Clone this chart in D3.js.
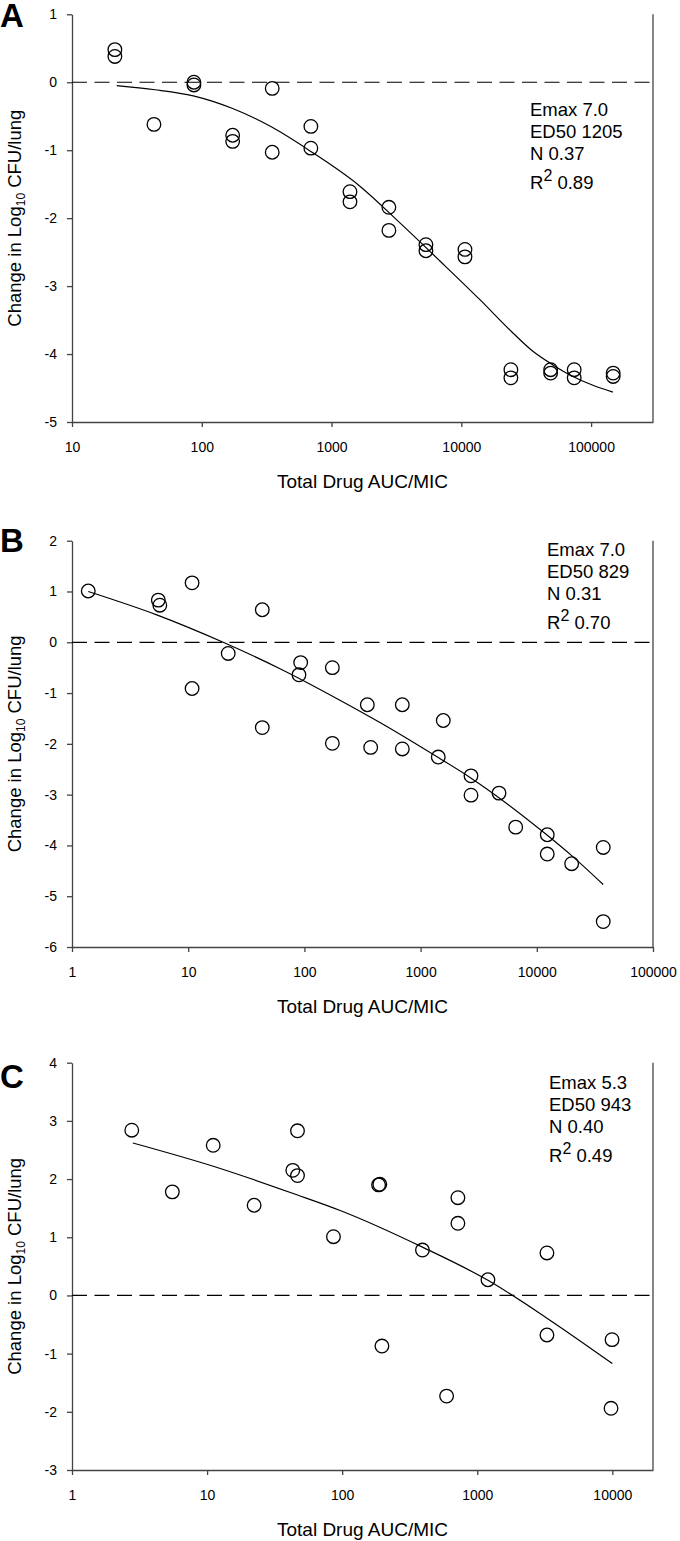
<!DOCTYPE html>
<html>
<head>
<meta charset="utf-8">
<script src="https://cdn.jsdelivr.net/npm/d3@7"></script>
<style>
  body { margin: 0; background: #fff; }
  svg { display: block; }
  text { font-family: "Liberation Sans", Arial, sans-serif; fill: #000; }
</style>
</head>
<body>
<script>
// ---- panel A ----
var aDose   = [21.4, 21.4, 42.8, 87, 87, 173, 173, 349, 349, 693, 693, 1387, 1387, 2767, 2767,
               5336, 5336, 10670, 10670, 24100, 24100, 48800, 48800, 74100, 74100, 148000, 148000];
var aChange = [0.48, 0.38, -0.62, 0.0, -0.04, -0.78, -0.87, -0.09, -1.03, -0.65, -0.97, -1.61, -1.76, -1.84, -2.18,
               -2.39, -2.48, -2.46, -2.57, -4.23, -4.35, -4.23, -4.28, -4.23, -4.35, -4.28, -4.33];
var aFitX   = [22.1, 43.6, 86, 175, 346, 682, 1655, 3365, 6840, 13910, 24980, 35610, 50780, 72400, 103250, 147230];
var aFitY   = [-0.05, -0.11, -0.20, -0.39, -0.66, -1.01, -1.53, -2.07, -2.63, -3.20, -3.69, -3.96, -4.16, -4.33, -4.46, -4.56];
var aTicksX = [10, 100, 1000, 10000, 100000];
var aTicksY = [-5, -4, -3, -2, -1, 0, 1];
var aNotes  = ["Emax 7.0", "ED50 1205", "N 0.37"];
var aR2     = "0.89";

// ---- panel B ----
var bDose   = [1.38, 5.53, 5.7, 10.8, 10.8, 22.1, 43.4, 43.4, 92.9, 89.8, 174, 174, 348, 372,
               696, 696, 1567, 1419, 2715, 2715, 4730, 6580, 12300, 12300, 19950, 37300, 37300];
var bChange = [1.01, 0.83, 0.73, 1.17, -0.91, -0.22, 0.64, -1.68, -0.40, -0.64, -0.5, -1.99, -1.23, -2.07,
               -1.23, -2.1, -1.54, -2.26, -2.63, -3.01, -2.97, -3.64, -3.79, -4.17, -4.36, -4.04, -5.5];
var bFitX   = [1.38, 5.36, 20.0, 61.7, 202, 447, 1419, 2700, 12170, 19950, 37300];
var bFitY   = [1.0, 0.54, 0.0, -0.52, -1.14, -1.58, -2.27, -2.67, -3.79, -4.2, -4.77];
var bTicksX = [1, 10, 100, 1000, 10000, 100000];
var bTicksY = [-6, -5, -4, -3, -2, -1, 0, 1, 2];
var bNotes  = ["Emax 7.0", "ED50 829", "N 0.31"];
var bR2     = "0.70";

// ---- panel C ----
var cDose   = [2.77, 5.53, 11.1, 22.3, 43.1, 46.7, 46.7, 86.2, 186, 190, 197, 393, 593,
               719, 719, 1200, 3280, 3280, 9950, 9780];
var cChange = [2.84, 1.78, 2.58, 1.55, 2.15, 2.06, 2.83, 1.01, 1.9, 1.91, -0.87, 0.78, -1.73,
               1.68, 1.24, 0.27, 0.73, -0.68, -0.76, -1.94];
var cFitX   = [2.82, 11.1, 46.2, 96.7, 393, 1200, 3280, 10000];
var cFitY   = [2.62, 2.22, 1.73, 1.46, 0.83, 0.26, -0.39, -1.17];
var cTicksX = [1, 10, 100, 1000, 10000];
var cTicksY = [-3, -2, -1, 0, 1, 2, 3, 4];
var cNotes  = ["Emax 5.3", "ED50 943", "N 0.40"];
var cR2     = "0.49";

var width = 680,
    height = 1541,
    left = 72,
    right = 653,
    axisColor = "#444";

var panels = [
  {letter: "A", letterY: 27, top: 14.3, bottom: 422, xDomain: [10, 300000], yDomain: [-5, 1],
   ticksX: aTicksX, ticksY: aTicksY, dose: aDose, change: aChange, fitX: aFitX, fitY: aFitY,
   notes: aNotes, r2: aR2, noteX: 530, noteY: 116},
  {letter: "B", letterY: 552, top: 540.7, bottom: 947, xDomain: [1, 100000], yDomain: [-6, 2],
   ticksX: bTicksX, ticksY: bTicksY, dose: bDose, change: bChange, fitX: bFitX, fitY: bFitY,
   notes: bNotes, r2: bR2, noteX: 547, noteY: 556},
  {letter: "C", letterY: 1088, top: 1062.7, bottom: 1470, xDomain: [1, 20000], yDomain: [-3, 4],
   ticksX: cTicksX, ticksY: cTicksY, dose: cDose, change: cChange, fitX: cFitX, fitY: cFitY,
   notes: cNotes, r2: cR2, noteX: 549, noteY: 1089}
];

var svg = d3.select("body")
  .append("svg")
    .attr("width", width)
    .attr("height", height);

panels.forEach(function(p) {
  var x = d3.scaleLog().domain(p.xDomain).range([left, right]);
  var y = d3.scaleLinear().domain(p.yDomain).range([p.bottom, p.top]);
  var g = svg.append("g");

  // axes
  var yAxis = g.append("g")
    .attr("transform", "translate(" + left + ",0)")
    .call(d3.axisLeft(y).tickValues(p.ticksY).tickSize(5).tickSizeOuter(0)
      .tickPadding(10).tickFormat(function(d) { return String(d); }));

  var xAxis = g.append("g")
    .attr("transform", "translate(0," + p.bottom + ")")
    .call(d3.axisBottom(x).tickValues(p.ticksX).tickSize(5).tickSizeOuter(0)
      .tickPadding(15).tickFormat(function(d) { return String(d); }));

  [yAxis, xAxis].forEach(function(a) {
    a.attr("font-family", null).attr("font-size", null);
    a.selectAll("path, line").attr("stroke", axisColor).attr("stroke-width", 1.3);
    a.selectAll("text").attr("font-size", 14).attr("fill", "#000");
  });

  // right frame line
  g.append("line")
    .attr("x1", right).attr("x2", right)
    .attr("y1", p.top).attr("y2", p.bottom)
    .attr("stroke", axisColor).attr("stroke-width", 1.3);

  // zero reference
  g.append("line")
    .attr("x1", left).attr("x2", right)
    .attr("y1", y(0)).attr("y2", y(0))
    .attr("stroke", "#000").attr("stroke-width", 1.2)
    .attr("stroke-dasharray", "15,7.5");

  // fitted curve
  var line = d3.line()
    .x(function(d) { return x(d[0]); })
    .y(function(d) { return y(d[1]); })
    .curve(d3.curveMonotoneX);

  g.append("path")
    .datum(d3.zip(p.fitX, p.fitY))
    .attr("d", line)
    .attr("fill", "none")
    .attr("stroke", "#000")
    .attr("stroke-width", 1.2);

  // observations
  g.selectAll(".pt")
    .data(d3.zip(p.dose, p.change))
    .enter()
    .append("circle")
      .attr("class", "pt")
      .attr("cx", function(d) { return x(d[0]); })
      .attr("cy", function(d) { return y(d[1]); })
      .attr("r", 6.8)
      .attr("fill", "none")
      .attr("stroke", "#000")
      .attr("stroke-width", 1.3);

  // fit parameters
  p.notes.forEach(function(t, i) {
    g.append("text")
      .attr("x", p.noteX)
      .attr("y", p.noteY + i * 22)
      .attr("font-size", 18.5)
      .text(t);
  });
  var r2 = g.append("text")
    .attr("x", p.noteX)
    .attr("y", p.noteY + 72.5)
    .attr("font-size", 18.5);
  r2.append("tspan").text("R");
  r2.append("tspan").attr("font-size", 16).attr("dy", -8).text("2");
  r2.append("tspan").attr("dy", 8).text(" " + p.r2);

  // axis titles
  g.append("text")
    .attr("x", (left + right) / 2)
    .attr("y", p.bottom + 66)
    .attr("text-anchor", "middle")
    .attr("font-size", 19)
    .text("Total Drug AUC/MIC");

  var yt = g.append("text")
    .attr("transform", "translate(21," + ((p.top + p.bottom) / 2) + ") rotate(-90)")
    .attr("text-anchor", "middle")
    .attr("font-size", 18.5);
  yt.append("tspan").text("Change in Log");
  yt.append("tspan").attr("font-size", 12).attr("dy", 4).text("10");
  yt.append("tspan").attr("dy", -4).text(" CFU/lung");

  // panel letter
  g.append("text")
    .attr("x", 0)
    .attr("y", p.letterY)
    .attr("font-size", 33)
    .attr("font-weight", "bold")
    .text(p.letter);
});
</script>
</body>
</html>
